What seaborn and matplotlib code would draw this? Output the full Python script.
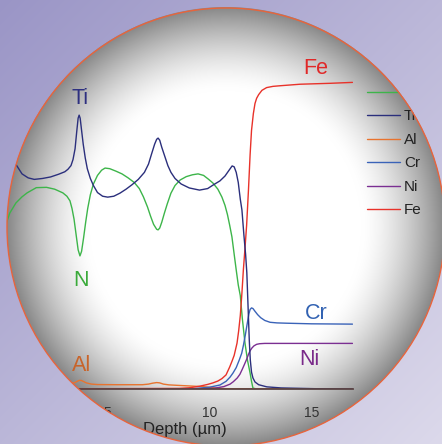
import numpy as np
import pandas as pd
import seaborn as sns
import matplotlib.pyplot as plt
from matplotlib.patches import Circle
from matplotlib.ticker import FixedLocator

sns.set_style("white")
plt.rcParams['font.family'] = ['Liberation Sans', 'DejaVu Sans']

# depth profiles (depth in um, signal in arbitrary units)
ti_depth = [0.0, 0.3, 0.55, 0.8, 1.1, 1.4, 1.8, 2.2, 2.6, 2.9, 3.05, 3.2, 3.3, 3.4, 3.48,
            3.55, 3.6, 3.65, 3.72, 3.8, 3.9, 4.0, 4.15, 4.3, 4.5, 4.75, 5.0, 5.3, 5.6, 5.9,
            6.2, 6.5, 6.8, 7.0, 7.15, 7.3, 7.4, 7.47, 7.55, 7.65, 7.8, 7.95, 8.1, 8.3, 8.6,
            9.0, 9.5, 9.9, 10.2, 10.5, 10.75, 10.95, 11.1, 11.2, 11.3, 11.4, 11.5, 11.58,
            11.68, 11.76, 11.82, 11.88, 11.94, 11.99, 12.05, 12.12, 12.22, 12.4, 12.8, 13.5,
            14.5, 15.5, 17.0]
ti_val = [78.0, 75.0, 72.9, 70.3, 69.0, 68.5, 68.8, 69.3, 70.2, 71.0, 71.8, 73.0, 75.0, 78.5,
          84.0, 88.5, 89.5, 88.5, 84.5, 80.0, 75.5, 72.0, 68.8, 66.5, 64.2, 63.0, 62.7, 63.0,
          64.0, 65.3, 66.8, 68.5, 70.8, 73.5, 76.8, 80.0, 81.6, 82.0, 81.3, 79.0, 76.0, 73.0,
          70.8, 68.8, 67.0, 65.7, 65.0, 65.5, 66.8, 68.0, 69.6, 71.5, 72.9, 72.6, 70.8, 67.5,
          62.0, 58.5, 50.0, 44.0, 38.0, 27.0, 16.0, 9.5, 5.5, 3.6, 2.3, 1.4, 0.7, 0.35,
          0.2, 0.05, 0.0]

n_depth = [0.0, 0.2, 0.5, 0.8, 1.05, 1.5, 2.0, 2.4, 2.8, 3.0, 3.15, 3.25, 3.35, 3.45, 3.55,
           3.64, 3.72, 3.82, 3.92, 4.02, 4.15, 4.3, 4.5, 4.7, 4.87, 5.1, 5.4, 5.7, 6.0, 6.3,
           6.55, 6.75, 6.95, 7.1, 7.25, 7.4, 7.47, 7.55, 7.65, 7.78, 7.92, 8.1, 8.3, 8.55,
           8.85, 9.15, 9.43, 9.7, 9.95, 10.16, 10.4, 10.6, 10.75, 10.87, 10.98, 11.09, 11.2,
           11.3, 11.4, 11.5, 11.6, 11.73, 11.85, 11.98, 12.05, 12.12, 12.3, 17.0]
n_val = [53.6, 57.5, 60.8, 62.8, 64.1, 65.8, 65.9, 65.3, 64.1, 63.0, 61.5, 59.0, 55.5, 50.5,
         45.5, 43.5, 45.0, 49.5, 54.5, 59.0, 63.5, 67.0, 69.8, 71.5, 72.2, 72.0, 71.2, 70.3,
         69.0, 67.5, 65.5, 62.8, 59.5, 56.5, 53.8, 52.2, 52.0, 52.6, 54.5, 57.5, 60.5, 64.0,
         66.5, 68.3, 69.4, 70.0, 70.3, 69.8, 68.5, 67.3, 65.3, 62.7, 60.0, 57.0, 53.5, 49.7,
         44.0, 38.9, 34.0, 30.5, 23.0, 15.0, 9.5, 5.2, 2.5, 0.3, 0.0, 0.0]

fe_depth = [0.0, 8.5, 9.0, 9.5, 9.9, 10.16, 10.4, 10.6, 10.8, 10.98, 11.1, 11.2, 11.34, 11.42,
            11.5, 11.58, 11.65, 11.73, 11.81, 11.9, 11.98, 12.05, 12.14, 12.22, 12.3, 12.4,
            12.56, 12.79, 13.1, 13.45, 14.43, 15.9, 17.0]
fe_val = [0.0, 0.2, 0.4, 0.9, 1.5, 2.0, 2.6, 3.4, 4.6, 7.2, 9.2, 11.0, 15.0, 19.0,
          24.0, 31.4, 38.9, 46.0, 53.5, 65.0, 76.5, 84.5, 90.0, 93.3, 95.0, 96.2,
          97.6, 98.5, 98.9, 99.1, 99.6, 99.9, 100.2]

cr_depth = [0.0, 9.0, 9.52, 10.0, 10.5, 10.8, 11.0, 11.14, 11.3, 11.45, 11.57, 11.66, 11.75,
            11.83, 11.92, 11.98, 12.05, 12.12, 12.22, 12.35, 12.5, 12.7, 12.96, 13.3, 13.77,
            15.0, 17.0]
cr_val = [0.0, 0.0, 0.3, 0.6, 1.3, 2.5, 3.9, 5.2, 7.0, 9.5, 11.7, 14.5, 17.8,
          21.0, 24.5, 26.0, 26.5, 26.3, 25.4, 24.3, 23.3, 22.4, 21.8, 21.6, 21.5,
          21.3, 21.2]

ni_depth = [0.0, 9.3, 10.18, 10.7, 11.0, 11.16, 11.35, 11.48, 11.6, 11.7, 11.81, 11.9, 11.98,
            12.07, 12.17, 12.3, 12.45, 12.7, 17.0]
ni_val = [0.0, 0.0, 0.2, 0.8, 1.6, 2.4, 3.6, 4.8, 6.5, 8.0, 9.7, 11.3, 12.5,
          13.4, 14.1, 14.6, 14.8, 14.9, 14.9]

al_depth = [0.0, 3.2, 3.4, 3.5, 3.6, 3.7, 3.8, 3.95, 4.2, 4.5, 5.5, 6.7, 7.0, 7.2, 7.4, 7.55,
            7.73, 8.0, 8.4, 9.0, 9.7, 10.34, 10.8, 17.0]
al_val = [1.9, 1.9, 2.1, 2.5, 2.8, 2.8, 2.5, 2.0, 1.6, 1.45, 1.4, 1.4, 1.6, 1.9, 2.1, 2.0,
          1.6, 1.35, 1.2, 1.0, 0.75, 0.3, 0.1, 0.1]

# element name, depth, signal, line colour, label colour, label position (depth, signal)
series = [
    ('N', n_depth, n_val, '#3db54a', '#3aaa3a', (3.69, 33.7)),
    ('Al', al_depth, al_val, '#e8732e', '#c8642a', (3.74, 5.9)),
    ('Cr', cr_depth, cr_val, '#3a63b8', '#3262b2', (15.21, 22.9)),
    ('Ni', ni_depth, ni_val, '#7b2f92', '#7a2a8a', (14.87, 7.8)),
    ('Fe', fe_depth, fe_val, '#e8322a', '#e02828', (15.21, 102.9)),
    ('Ti', ti_depth, ti_val, '#2b2f7c', '#2e3080', (3.64, 93.1)),
]
legend_order = ['N', 'Ti', 'Al', 'Cr', 'Ni', 'Fe']

fig = plt.figure(figsize=(4.42, 4.44), dpi=100)

# lavender backdrop and the shaded round "lens"
yy, xx = np.mgrid[0:444, 0:442] + 0.5
t = (xx / 442 + yy / 444) / 2
c0 = np.array([0x9a, 0x95, 0xc6]) / 255
c1 = np.array([0xdc, 0xd9, 0xeb]) / 255
backdrop = c0 * (1 - t[..., None]) + c1 * t[..., None]
rr = np.hypot(xx - 226, yy - 227) / 219
shade = 1 - 0.47 * np.clip((rr - 0.62) / 0.38, 0, 1) ** 1.5
inside = np.clip((1 - rr) * 219 + 0.5, 0, 1)

bg = fig.add_axes([0, 0, 1, 1], zorder=0)
bg.imshow(np.repeat(shade[..., None], 3, axis=2), extent=(0, 442, 444, 0), aspect='auto')
bg.axis('off')

# the chart itself
ax = fig.add_axes([5.7 / 442, 55 / 444, 346.8 / 442, 336.6 / 444], zorder=1)
ax.set_facecolor('none')

for name, d, v, col, tcol, pos in series:
    sns.lineplot(x=d, y=v, color=col, lw=1.0, ax=ax, label=name)
    ax.text(pos[0], pos[1], name, color=tcol, fontsize=15.5, ha='center', va='baseline')

ax.set_xlim(0, 17)
ax.set_ylim(0, 110)
ax.yaxis.set_visible(False)
for s in ['left', 'top', 'right']:
    ax.spines[s].set_visible(False)
ax.spines['bottom'].set_color('#5a4444')
ax.spines['bottom'].set_linewidth(1.3)

ax.xaxis.set_major_locator(FixedLocator([5, 10, 15]))
ax.xaxis.set_minor_locator(FixedLocator([7.5, 12.5]))
ax.tick_params(axis='x', which='major', direction='out', length=5, width=1, color='#555555',
               labelsize=10, labelcolor='#333333', pad=7)
ax.tick_params(axis='x', which='minor', direction='out', length=3.5, width=1, color='#555555')
ax.set_xlabel('Depth (µm)', fontsize=12, color='#222222')
ax.xaxis.set_label_coords(0.517, -0.097)

handles, labels = ax.get_legend_handles_labels()
hmap = dict(zip(labels, handles))
leg = ax.legend([hmap[k] for k in legend_order], legend_order, loc='upper left',
                bbox_to_anchor=(367 / 442, 1 - 86 / 444), bbox_transform=fig.transFigure,
                frameon=False, fontsize=11, handlelength=2.16, handletextpad=0.26,
                labelspacing=0.62, borderpad=0, borderaxespad=0)
for txt in leg.get_texts():
    txt.set_color('#222222')

# everything outside the lens is covered by the backdrop
top = fig.add_axes([0, 0, 1, 1], zorder=5)
top.imshow(np.dstack([backdrop, 1 - inside]), extent=(0, 442, 444, 0), aspect='auto')
top.add_patch(Circle((226, 227), 219, fill=False, ec='#e8643c', lw=1.0))
top.set_xlim(0, 442)
top.set_ylim(444, 0)
top.axis('off')

fig.savefig('out.png', dpi=100)
